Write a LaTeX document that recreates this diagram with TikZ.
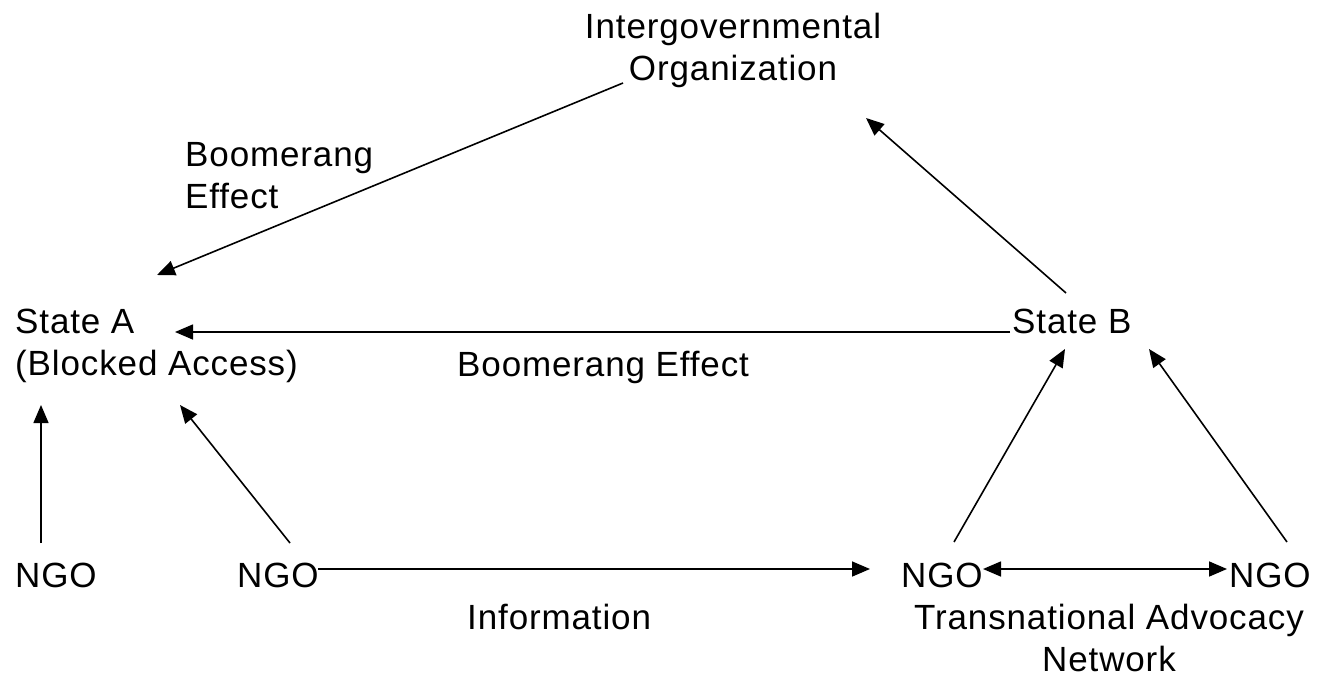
\documentclass[tikz,border=0pt]{standalone}
\usepackage{fontspec}
\setmainfont{Liberation Sans}[LetterSpace=2.5]
\usetikzlibrary{arrows.meta}

\begin{document}
\begin{tikzpicture}[x=1pt, y=-1pt,
    lbl/.style={inner sep=0pt, anchor=north west, align=left,
                font=\fontsize{35}{42}\selectfont},
    arr/.style={line width=1.6pt, -{Triangle[length=18pt, width=15pt]}},
    darr/.style={line width=1.6pt, {Triangle[length=18pt, width=15pt]}-{Triangle[length=18pt, width=15pt]}}]
    \useasboundingbox (0,0) rectangle (1321,682);

    % Actors
    \node[lbl, anchor=north, align=center] (igo) at (733,13) {Intergovernmental\\Organization};
    \node[lbl] (stateA) at (15,309) {State A\\(Blocked Access)};
    \node[lbl] (stateB) at (1012,309) {State B};

    % NGOs
    \node[lbl] (ngoA) at (15,563) {NGO};
    \node[lbl] (ngoB) at (237,563) {NGO};
    \node[lbl] (ngoC) at (901,563) {NGO};
    \node[lbl] (ngoD) at (1229,563) {NGO};

    % Labels
    \node[lbl] (boomTop) at (185,142) {Boomerang\\Effect};
    \node[lbl] (boomMid) at (457,351) {Boomerang Effect};
    \node[lbl] (info) at (467,604) {Information};
    \node[lbl, anchor=north, align=center] (tan) at (1109,604) {Transnational Advocacy\\Network};

    % Boomerang
    \draw[arr] ([shift={(-110,70)}]igo.north) -- ([shift={(142,-34)}]stateA.north west);
    \draw[arr] ([shift={(-2,23)}]stateB.north west) -- ([shift={(160,23)}]stateA.north west);
    \draw[arr] ([shift={(54,-16)}]stateB.north west) -- ([shift={(133,105)}]igo.north);

    % NGO links
    \draw[arr] ([shift={(26,-20)}]ngoA.north west) -- ([shift={(26,96)}]stateA.north west);
    \draw[arr] ([shift={(53,-20)}]ngoB.north west) -- ([shift={(165,96)}]stateA.north west);
    \draw[arr] ([shift={(81,6)}]ngoB.north west) -- ([shift={(-31,6)}]ngoC.north west);
    \draw[darr] ([shift={(82,6)}]ngoC.north west) -- ([shift={(-2,6)}]ngoD.north west);
    \draw[arr] ([shift={(53,-21)}]ngoC.north west) -- ([shift={(53,40)}]stateB.north west);
    \draw[arr] ([shift={(58,-21)}]ngoD.north west) -- ([shift={(137,40)}]stateB.north west);
\end{tikzpicture}
\end{document}
